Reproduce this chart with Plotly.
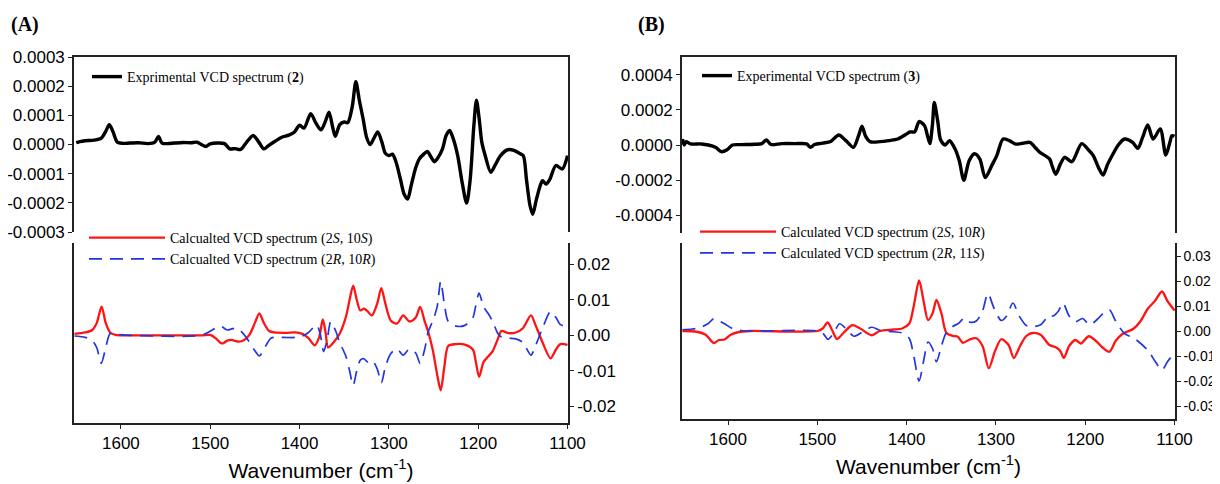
import plotly.graph_objects as go

# ---------------- DATA ----------------
# Panel A: experimental VCD spectrum (2), values in units of 1e-4
a_exp_wn = [1650, 1646, 1640, 1630, 1622, 1617, 1613, 1609, 1604, 1598, 1590, 1580, 1570, 1562, 1558, 1554,
            1548, 1540, 1530, 1522, 1515, 1510, 1505, 1500, 1492, 1484, 1478, 1472, 1466, 1460, 1452, 1446,
            1440, 1434, 1427, 1420, 1412, 1406, 1400, 1395, 1387.5, 1382, 1376, 1371, 1367, 1363, 1360, 1355,
            1350, 1346, 1341, 1337, 1333, 1329, 1325, 1321, 1317, 1312.5, 1308, 1304, 1300, 1296, 1292, 1287,
            1283, 1279, 1275, 1270, 1266, 1261, 1257, 1253, 1249, 1245, 1240, 1236, 1232, 1228, 1223, 1218,
            1213, 1209, 1205, 1202, 1199, 1196, 1192, 1186, 1181, 1175, 1167, 1160, 1154, 1149.6, 1146, 1142,
            1139, 1135, 1131, 1128, 1124, 1120, 1113, 1106, 1100]
a_exp_val = [0.06, 0.10, 0.13, 0.15, 0.22, 0.45, 0.68, 0.45, 0.08, 0.04, 0.05, 0.06, 0.03, 0.08, 0.28, 0.05,
             0.03, 0.05, 0.07, 0.06, 0.08, 0.00, -0.07, 0.02, 0.05, 0.03, -0.15, -0.14, -0.17, 0.05, 0.31, 0.10,
             -0.15, -0.02, 0.12, 0.25, 0.32, 0.42, 0.66, 0.56, 1.06, 0.75, 0.50, 0.80, 1.11, 0.60, 0.28, 0.68,
             0.77, 0.75, 1.30, 2.15, 1.50, 0.90, 0.25, 0.00, 0.20, 0.43, 0.10, -0.30, -0.38, -0.33, -0.60, -1.20,
             -1.70, -1.87, -1.40, -0.80, -0.50, -0.33, -0.24, -0.42, -0.59, -0.45, -0.15, 0.30, 0.48, 0.20, -0.38, -1.30,
             -2.01, -1.20, 0.60, 1.52, 0.90, 0.08, -0.40, -0.95, -0.70, -0.38, -0.18, -0.20, -0.30, -0.38, -1.20, -2.10,
             -2.39, -1.90, -1.45, -1.24, -1.36, -1.20, -0.72, -0.84, -0.38]

# Panel A: calculated spectra
a_s_wn = [1652, 1640, 1632, 1627, 1621.6, 1617, 1612, 1606, 1590, 1550, 1510, 1500, 1494, 1489, 1486, 1481,
          1476, 1472, 1468, 1462, 1456, 1450, 1445, 1440, 1434, 1428, 1415, 1405, 1397, 1390, 1383, 1378,
          1374, 1371, 1368, 1362, 1355, 1348, 1344, 1340, 1336, 1332, 1328, 1324, 1319, 1313, 1308.5, 1304,
          1298, 1291, 1284, 1277, 1270, 1265, 1260, 1256, 1251, 1246, 1242, 1238, 1233.6, 1225, 1215, 1206,
          1203, 1199, 1194, 1189, 1184, 1178, 1174, 1166, 1158, 1150, 1141, 1136, 1128, 1119, 1113, 1108, 1100]
a_s_val = [0.0004, 0.0008, 0.0015, 0.0035, 0.0081, 0.0035, 0.0008, 0.0001, 0.0, 0.0, 0.0, 0.0001, -0.0008, -0.0020, -0.0023, -0.0015,
           -0.0013, -0.0016, -0.0018, -0.0013, 0.0002, 0.0035, 0.0062, 0.0035, 0.0012, 0.0008, 0.0007, 0.0008, 0.0004, -0.0008, -0.0028, -0.0005,
           0.0045, 0.0010, -0.0034, -0.0020, 0.0005, 0.0053, 0.0100, 0.0140, 0.0100, 0.0070, 0.0075, 0.0068, 0.0056, 0.0090, 0.0133, 0.0090,
           0.0042, 0.0033, 0.0056, 0.0039, 0.0050, 0.0080, 0.0040, 0.0010, -0.0040, -0.0110, -0.0155, -0.0090, -0.0030, -0.0025, -0.0026, -0.0040,
           -0.0070, -0.0117, -0.0075, -0.0060, -0.0045, -0.0010, 0.0012, 0.0006, 0.0008, 0.0020, 0.0056, 0.0030, -0.0020, -0.0065, -0.0040, -0.0025, -0.0027]

a_r_wn = [1652, 1640, 1632, 1627, 1622, 1617, 1612, 1606, 1590, 1510, 1501, 1494, 1488, 1481, 1476, 1472,
          1467, 1460, 1451, 1445, 1440, 1432, 1420, 1405, 1397, 1390, 1381, 1377, 1373, 1369, 1365, 1360,
          1355, 1348, 1344, 1340, 1336, 1332, 1328, 1324, 1319, 1313, 1308.5, 1304, 1298, 1291, 1284, 1277,
          1270, 1265, 1260, 1256, 1251, 1246, 1242, 1238, 1233.6, 1225, 1215, 1206, 1203, 1199, 1194, 1189,
          1184, 1178, 1174, 1166, 1158, 1150, 1141, 1136, 1128, 1119, 1113, 1108, 1100]
a_r_val = [-0.0002, -0.0006, -0.0015, -0.0035, -0.0079, -0.0035, 0.0005, 0.0003, 0.0, 0.0, 0.0010, 0.0020, 0.0025, 0.0015, 0.0018, 0.0020,
           0.0015, -0.0005, -0.0040, -0.0058, -0.0040, -0.0008, -0.0006, -0.0006, -0.0002, 0.0008, 0.0029, 0.0005, -0.0046, -0.0010, 0.0039, 0.0015,
           -0.0020, -0.0060, -0.0100, -0.0141, -0.0100, -0.0070, -0.0066, -0.0075, -0.0070, -0.0095, -0.0134, -0.0090,
           -0.0052, -0.0038, -0.0056, -0.0038, -0.0050, -0.0079, -0.0040, 0.0010, 0.0040, 0.0080, 0.0152, 0.0090, 0.0039, 0.0026, 0.0028, 0.0050,
           0.0080, 0.0119, 0.0080, 0.0062, 0.0040, 0.0005, -0.0005, -0.0008, -0.0010, -0.0020, -0.0056, -0.0030, 0.0020, 0.0067, 0.0050, 0.0030, 0.0025]

# Panel B: experimental VCD spectrum (3), values in units of 1e-4
b_exp_wn = [1651, 1649, 1647, 1642, 1630, 1622, 1614, 1607.6, 1601, 1595, 1585, 1570, 1562, 1557, 1552, 1540,
            1525, 1512, 1507.6, 1503, 1494, 1485, 1476, 1468, 1459.6, 1454, 1450, 1446, 1441, 1430, 1420, 1410,
            1401, 1396, 1391, 1386, 1380, 1377, 1374, 1371, 1369, 1365, 1362, 1357, 1352, 1346, 1341, 1336,
            1330, 1324, 1318, 1312, 1304, 1299, 1292, 1285, 1278, 1270, 1262, 1255, 1251, 1240, 1237, 1233,
            1228, 1223, 1215, 1204, 1196, 1191, 1185, 1180, 1175, 1170, 1163, 1156, 1147, 1141, 1136, 1130,
            1124, 1116, 1109.8, 1105, 1103, 1100]
b_exp_val = [0.34, 0.00, 0.19, 0.06, 0.06, 0.00, -0.13, -0.38, -0.27, 0.00, 0.02, 0.04, 0.08, 0.29, 0.03, 0.08,
             0.08, 0.06, -0.13, 0.03, 0.11, 0.20, 0.57, 0.25, -0.13, 0.50, 1.07, 0.50, 0.19, 0.19, 0.25, 0.34,
             0.60, 0.74, 0.75, 1.33, 1.10, 0.60, 0.08, 1.20, 2.42, 1.30, 0.30, 0.00, 0.24, -0.20, -0.90, -2.00,
             -0.90, -0.50, -0.80, -1.85, -1.10, -0.60, 0.34, 0.25, 0.05, 0.10, 0.15, -0.20, -0.41, -0.79, -1.20, -1.66,
             -1.10, -0.70, -0.95, 0.08, -0.30, -0.60, -1.30, -1.71, -1.10, -0.61, 0.00, 0.34, 0.15, -0.19, 0.40, 1.14,
             0.34, 0.91, -0.57, 0.20, 0.53, 0.50]

# Panel B: calculated spectra
b_s_wn = [1651, 1635, 1625, 1616, 1610, 1604, 1597, 1588, 1575, 1500, 1494, 1488.4, 1483, 1478, 1470, 1461,
          1452, 1439, 1430, 1415, 1405, 1397, 1392, 1386, 1381, 1376, 1371, 1366.6, 1361, 1355.5, 1348, 1343,
          1337, 1330, 1322, 1315, 1308, 1301, 1294, 1286, 1280, 1273, 1266, 1259, 1250, 1240, 1233, 1228,
          1224, 1218, 1211, 1205, 1196, 1188, 1181, 1173, 1166, 1158, 1146, 1138, 1130, 1122, 1114, 1108, 1100]
b_s_val = [0.0, -0.0003, -0.0015, -0.0048, -0.0036, -0.0034, -0.0015, -0.0004, 0.0, 0.0, 0.0010, 0.0034, 0.0, -0.0032, -0.0005, 0.0023,
           0.0010, -0.0017, 0.0, 0.0006, 0.0010, 0.0030, 0.0100, 0.0202, 0.0120, 0.0044, 0.0070, 0.0124, 0.0070, -0.0007, -0.0020, -0.0022,
           -0.0047, -0.0035, -0.0029, -0.0060, -0.0149, -0.0080, -0.0033, -0.0055, -0.0108, -0.0060, -0.0020, -0.0008, -0.0015, -0.0056, -0.0065, -0.0080,
           -0.0108, -0.0060, -0.0036, -0.0050, -0.0021, -0.0040, -0.0065, -0.0083, -0.0040, -0.0011, 0.0009, 0.0040, 0.0089, 0.0120, 0.0158, 0.0120, 0.0082]

b_r_wn = [1651, 1640, 1632, 1622, 1616, 1610, 1604, 1595, 1585, 1575, 1500, 1494, 1488, 1482, 1475, 1468,
          1459, 1450, 1439, 1430, 1415, 1405, 1397, 1392, 1386, 1381, 1376, 1371, 1366.6, 1361, 1355.5, 1348,
          1342, 1335, 1329, 1322, 1315, 1309, 1302, 1294, 1288, 1281, 1274, 1266, 1259, 1250, 1240, 1236,
          1230, 1225, 1218, 1211, 1203, 1195, 1187, 1180, 1173, 1166, 1156, 1145, 1130, 1122, 1114, 1108, 1100]
b_r_val = [0.0005, 0.0008, 0.0013, 0.0030, 0.0049, 0.0040, 0.0029, 0.0010, 0.0002, 0.0, 0.0, -0.0008, -0.0033, -0.0010, 0.0029, 0.0010,
           -0.0021, -0.0005, 0.0015, 0.0003, -0.0003, -0.0008, -0.0030, -0.0100, -0.0200, -0.0120, -0.0044, -0.0070, -0.0123, -0.0060, -0.0005, 0.0019,
           0.0030, 0.0052, 0.0035, 0.0040, 0.0080, 0.0150, 0.0090, 0.0042, 0.0060, 0.0112, 0.0060, 0.0022, 0.0017, 0.0025, 0.0064, 0.0060,
           0.0080, 0.0112, 0.0060, 0.0037, 0.0050, 0.0025, 0.0045, 0.0070, 0.0085, 0.0040, -0.0010, -0.0030, -0.0077, -0.0120, -0.0156, -0.0123, -0.0087]

x_ticks = [1600, 1500, 1400, 1300, 1200, 1100]
a_top_ticks = [0.0003, 0.0002, 0.0001, 0.0, -0.0001, -0.0002, -0.0003]
a_top_text = ["0.0003", "0.0002", "0.0001", "0.0000", "-0.0001", "-0.0002", "-0.0003"]
a_bot_ticks = [0.02, 0.01, 0.0, -0.01, -0.02]
a_bot_text = ["0.02", "0.01", "0.00", "-0.01", "-0.02"]
b_top_ticks = [0.0004, 0.0002, 0.0, -0.0002, -0.0004]
b_top_text = ["0.0004", "0.0002", "0.0000", "-0.0002", "-0.0004"]
b_bot_ticks = [0.03, 0.02, 0.01, 0.0, -0.01, -0.02, -0.03]
b_bot_text = ["0.03", "0.02", "0.01", "0.00", "-0.01", "-0.02", "-0.03"]

SCALE_E4 = 1e-4

# ---------------- LAYOUT HELPERS ----------------
# The page body has an 8px margin, so the figure is drawn offset by 8px.
W, H = 1220, 484
OFF = 8
FW, FH = W - OFF, H - OFF
def fx(p):
    return (p - OFF) / FW
def fy(p):
    return 1 - (p - OFF) / FH

SANS = "Liberation Sans, Arial, sans-serif"
SERIF = "Liberation Serif, Times New Roman, serif"
AXC = "#222222"
RED = "#ff1414"
BLUE = "#2236e0"

fig = go.Figure()

# Panel A
fig.add_trace(go.Scatter(x=a_exp_wn, y=[v * SCALE_E4 for v in a_exp_val], mode="lines",
                         line=dict(color="black", width=3.4, shape="spline", smoothing=0.8),
                         name="Exprimental VCD spectrum (<b>2</b>)", xaxis="x3", yaxis="y", legend="legend"))
fig.add_trace(go.Scatter(x=a_s_wn, y=a_s_val, mode="lines",
                         line=dict(color=RED, width=2.3, shape="spline", smoothing=0.8),
                         name="Calcualted VCD spectrum (2<i>S</i>, 10<i>S</i>)", xaxis="x", yaxis="y2", legend="legend2"))
fig.add_trace(go.Scatter(x=a_r_wn, y=a_r_val, mode="lines",
                         line=dict(color=BLUE, width=1.7, dash="13px,8px", shape="spline", smoothing=0.8),
                         name="Calcualted VCD spectrum (2<i>R</i>, 10<i>R</i>)", xaxis="x", yaxis="y2", legend="legend2"))
# Panel B
fig.add_trace(go.Scatter(x=b_exp_wn, y=[v * SCALE_E4 for v in b_exp_val], mode="lines",
                         line=dict(color="black", width=3.4, shape="spline", smoothing=0.8),
                         name="Experimental VCD spectrum (<b>3</b>)", xaxis="x4", yaxis="y3", legend="legend3"))
fig.add_trace(go.Scatter(x=b_s_wn, y=b_s_val, mode="lines",
                         line=dict(color=RED, width=2.3, shape="spline", smoothing=0.8),
                         name="Calculated VCD spectrum (2<i>S</i>, 10<i>R</i>)", xaxis="x2", yaxis="y4", legend="legend4"))
fig.add_trace(go.Scatter(x=b_r_wn, y=b_r_val, mode="lines",
                         line=dict(color=BLUE, width=1.7, dash="13px,8px", shape="spline", smoothing=0.8),
                         name="Calculated VCD spectrum (2<i>R</i>, 11<i>S</i>)", xaxis="x2", yaxis="y4", legend="legend4"))

common_ax = dict(showgrid=False, zeroline=False, showline=True, linecolor=AXC, linewidth=1.6)
tick_ax = dict(ticks="outside", ticklen=4, tickwidth=1.4, tickcolor=AXC)

xa_dom = [fx(74), fx(568)]
xb_dom = [fx(682), fx(1175)]
xa_rng = [1652.5, 1099.5]
xb_rng = [1651.5, 1099.5]

title_x = dict(text="Wavenumber (cm<sup>-1</sup>)", font=dict(family=SANS, size=21, color="black"), standoff=11)

legend_common = dict(bgcolor="rgba(0,0,0,0)", borderwidth=0, xanchor="left", yanchor="top",
                     font=dict(family=SERIF, size=14, color="black"), tracegroupgap=0)

fig.update_layout(
    width=FW, height=FH, autosize=False,
    margin=dict(l=0, r=0, t=0, b=0, autoexpand=False),
    paper_bgcolor="white", plot_bgcolor="white",
    showlegend=True,
    xaxis=dict(domain=xa_dom, range=xa_rng, anchor="y2", tickvals=x_ticks,
               tickfont=dict(family=SANS, size=17, color="black"), title=title_x,
               **common_ax, **tick_ax),
    xaxis3=dict(domain=xa_dom, range=xa_rng, anchor="y", side="top", showticklabels=False, ticks="",
                **common_ax),
    yaxis=dict(domain=[fy(232), fy(57)], range=[-0.0003, 0.0003], anchor="x3", side="left", mirror=True,
               tickvals=a_top_ticks, ticktext=a_top_text, tickfont=dict(family=SANS, size=17, color="black"),
               **common_ax, **tick_ax),
    yaxis2=dict(domain=[fy(423), fy(243)], range=[-0.0247, 0.026], anchor="x", side="right", mirror=True,
                tickvals=a_bot_ticks, ticktext=a_bot_text, tickfont=dict(family=SANS, size=17, color="black"),
                **common_ax, **tick_ax),
    xaxis2=dict(domain=xb_dom, range=xb_rng, anchor="y4", tickvals=x_ticks,
                tickfont=dict(family=SANS, size=17, color="black"), title=title_x,
                **common_ax, **tick_ax),
    xaxis4=dict(domain=xb_dom, range=xb_rng, anchor="y3", side="top", showticklabels=False, ticks="",
                **common_ax),
    yaxis3=dict(domain=[fy(233), fy(57)], range=[-0.0005, 0.0005], anchor="x4", side="left", mirror=True,
                tickvals=b_top_ticks, ticktext=b_top_text, tickfont=dict(family=SANS, size=17, color="black"),
                **common_ax, **tick_ax),
    yaxis4=dict(domain=[fy(419), fy(243)], range=[-0.0352, 0.0352], anchor="x2", side="right", mirror=True,
                tickvals=b_bot_ticks, ticktext=b_bot_text, tickfont=dict(family=SANS, size=14, color="black"),
                ticklabelstandoff=0, **common_ax, **tick_ax),
    legend=dict(x=fx(87), y=fy(61), itemwidth=30, **legend_common),
    legend2=dict(x=fx(84), y=fy(222), itemwidth=76, **legend_common),
    legend3=dict(x=fx(697), y=fy(60), itemwidth=30, **legend_common),
    legend4=dict(x=fx(695), y=fy(216), itemwidth=76, **legend_common),
    annotations=[
        dict(text="<b>(A)</b>", x=fx(9), y=fy(25), xref="paper", yref="paper", xanchor="left", yanchor="middle",
             showarrow=False, font=dict(family=SERIF, size=20, color="black")),
        dict(text="<b>(B)</b>", x=fx(636), y=fy(25), xref="paper", yref="paper", xanchor="left", yanchor="middle",
             showarrow=False, font=dict(family=SERIF, size=20, color="black")),
    ],
)

fig.write_html("out.html")
